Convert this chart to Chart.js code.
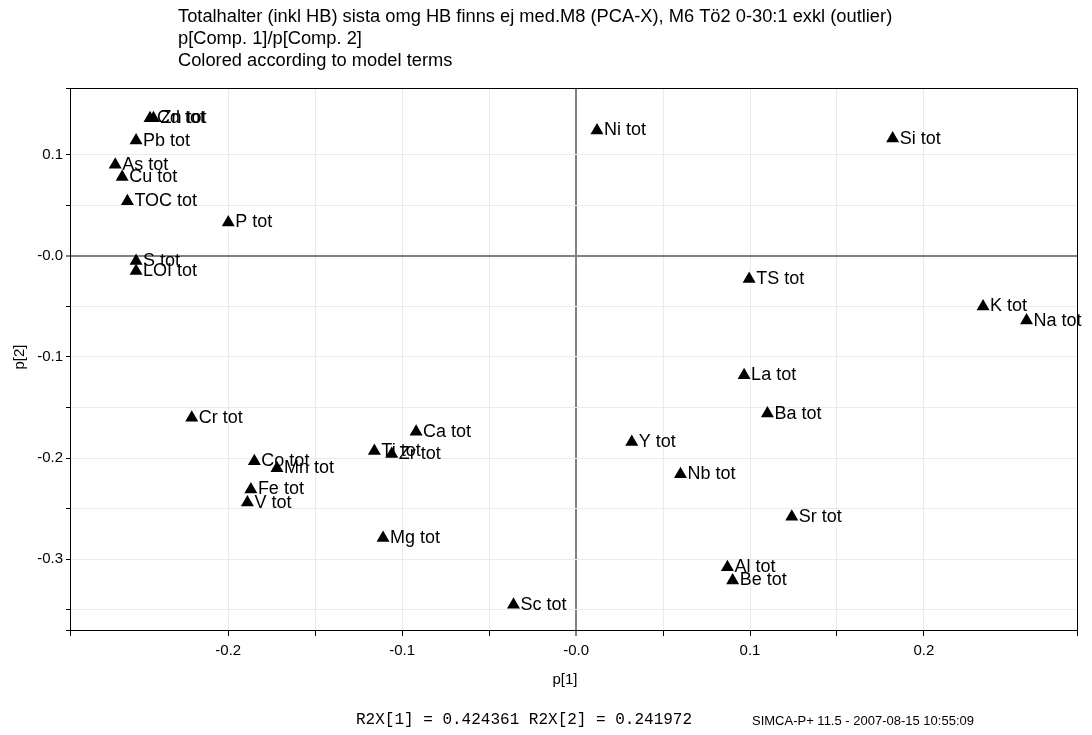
<!DOCTYPE html>
<html>
<head>
<meta charset="utf-8">
<script src="https://cdn.jsdelivr.net/npm/chart.js@4"></script>
<style>
  body { margin: 0; background: #fff; }
  #wrap { width: 1092px; height: 735px; }
</style>
</head>
<body>
<div id="wrap"><canvas id="loadingPlot"></canvas></div>
<script>
// variable names and loadings
const names = ['Cd tot', 'Zn tot', 'Pb tot', 'As tot', 'Cu tot', 'TOC tot', 'P tot', 'S tot', 'LOI tot',
  'Ni tot', 'Si tot', 'TS tot', 'K tot', 'Na tot', 'La tot', 'Ba tot', 'Y tot', 'Nb tot', 'Sr tot',
  'Al tot', 'Be tot', 'Cr tot', 'Ca tot', 'Ti tot', 'Zr tot', 'Co tot', 'Mn tot', 'Fe tot', 'V tot',
  'Mg tot', 'Sc tot'];
const p1 = [-0.245, -0.243, -0.253, -0.265, -0.261, -0.258, -0.200, -0.253, -0.253,
  0.012, 0.182, 0.0995, 0.234, 0.259, 0.0966, 0.110, 0.032, 0.060, 0.124,
  0.087, 0.090, -0.221, -0.092, -0.116, -0.106, -0.185, -0.172, -0.187, -0.189,
  -0.111, -0.036];
const p2 = [0.136, 0.136, 0.114, 0.090, 0.078, 0.054, 0.033, -0.005, -0.015,
  0.124, 0.116, -0.023, -0.050, -0.064, -0.118, -0.156, -0.184, -0.216, -0.258,
  -0.308, -0.321, -0.160, -0.174, -0.193, -0.196, -0.203, -0.210, -0.231, -0.244,
  -0.279, -0.345];

const titleLines = [
  'Totalhalter (inkl HB) sista omg HB finns ej med.M8 (PCA-X), M6 Tö2 0-30:1 exkl (outlier)',
  'p[Comp. 1]/p[Comp. 2]',
  'Colored according to model terms'
];
const footer = 'R2X[1] = 0.424361 R2X[2] = 0.241972';
const stamp = 'SIMCA-P+ 11.5 - 2007-08-15 10:55:09';

const font = '"Liberation Sans", Arial, sans-serif';

function tickLabel(v) {
  const k = v / 0.1;
  if (Math.abs(k - Math.round(k)) > 1e-6) return '';
  const r = Math.round(k) / 10;
  if (r === 0) return '-0.0';
  return r.toFixed(1);
}

const isZero = c => Math.abs(c.tick.value) < 1e-9;

// titles, frame and point labels
const extras = {
  id: 'extras',
  afterDatasetsDraw(chart) {
    const { ctx, chartArea: a } = chart;
    const meta = chart.getDatasetMeta(0);
    ctx.save();
    ctx.fillStyle = '#000';
    ctx.font = '18px ' + font;
    ctx.textBaseline = 'middle';
    ctx.textAlign = 'left';
    meta.data.forEach((pt, i) => {
      ctx.fillText(names[i], pt.x + 7, pt.y);
    });

    ctx.strokeStyle = '#000';
    ctx.lineWidth = 1;
    ctx.strokeRect(Math.round(a.left) + 0.5, Math.round(a.top) + 0.5,
      Math.round(a.right - a.left), Math.round(a.bottom - a.top));

    ctx.font = '18.3px ' + font;
    ctx.textBaseline = 'alphabetic';
    ctx.fillText(titleLines[0], 178, 22);
    ctx.fillText(titleLines[1], 178, 44);
    ctx.fillText(titleLines[2], 178, 66);

    ctx.font = '15px ' + font;
    ctx.textBaseline = 'middle';
    ctx.textAlign = 'center';
    ctx.fillText('p[1]', 565, 680);
    ctx.save();
    ctx.translate(20, 357);
    ctx.rotate(-Math.PI / 2);
    ctx.fillText('p[2]', 0, 0);
    ctx.restore();

    ctx.textAlign = 'left';
    ctx.font = '16px "Liberation Mono", monospace';
    ctx.fillText(footer, 356, 720, 344);
    ctx.font = '13px ' + font;
    ctx.fillText(stamp, 752, 721, 222);
    ctx.restore();
  }
};

new Chart(document.getElementById('loadingPlot'), {
  type: 'scatter',
  data: {
    datasets: [{
      label: 'p',
      data: p1.map((x, i) => ({ x: x, y: p2[i] })),
      pointStyle: 'triangle',
      pointRadius: 7.5,
      pointHoverRadius: 7.5,
      backgroundColor: '#000',
      borderColor: '#000',
      borderWidth: 0
    }]
  },
  options: {
    responsive: true,
    maintainAspectRatio: false,
    animation: false,
    layout: { padding: { left: 0, right: 15, top: 88, bottom: 0 } },
    plugins: {
      legend: { display: false },
      title: { display: false },
      tooltip: { enabled: false }
    },
    scales: {
      x: {
        type: 'linear',
        min: -0.291,
        max: 0.288,
        afterFit: s => { s.height = 105; },
        ticks: {
          stepSize: 0.05,
          autoSkip: false,
          maxRotation: 0,
          padding: 6,
          color: '#000',
          font: { family: font, size: 15 },
          callback: v => tickLabel(v)
        },
        grid: {
          color: c => isZero(c) ? '#808080' : '#ebebeb',
          lineWidth: c => isZero(c) ? 2 : 1,
          tickColor: '#000',
          tickWidth: 1,
          tickLength: 6
        },
        border: { color: '#000' }
      },
      y: {
        type: 'linear',
        min: -0.370,
        max: 0.166,
        afterFit: s => { s.width = 70; },
        ticks: {
          stepSize: 0.05,
          autoSkip: false,
          padding: 3,
          color: '#000',
          font: { family: font, size: 15 },
          callback: v => tickLabel(v)
        },
        grid: {
          color: c => isZero(c) ? '#808080' : '#ebebeb',
          lineWidth: c => isZero(c) ? 2 : 1,
          tickColor: '#000',
          tickWidth: 1,
          tickLength: 4
        },
        border: { color: '#000' }
      }
    }
  },
  plugins: [extras]
});
</script>
</body>
</html>
